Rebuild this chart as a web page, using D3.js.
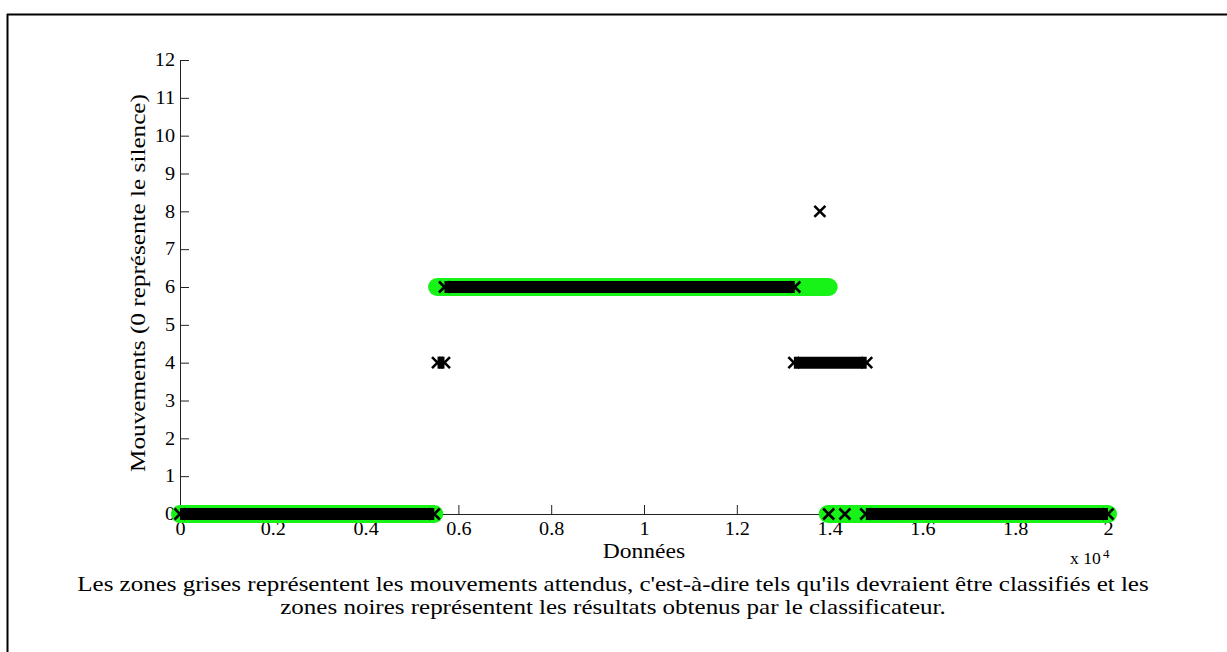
<!DOCTYPE html>
<html>
<head>
<meta charset="utf-8">
<script src="https://cdn.jsdelivr.net/npm/d3@7"></script>
<style>
body { margin: 0; background: #fff; }
text { font-family: "Liberation Serif", "Times New Roman", serif; fill: #000; }
</style>
</head>
<body>
<script>
// expected movements (green): runs of constant value over the sample index
var expectedStart = [0, 5540, 13960];
var expectedEnd = [5480, 13980, 20000];
var expectedValue = [0, 6, 0];

// classifier output (black x markers)
var classStart = [0, 5550, 5700, 13790, 13230, 13980, 14330, 14780];
var classEnd = [5480, 5700, 13250, 13790, 14800, 13980, 14330, 20000];
var classValue = [0, 4, 6, 8, 4, 0, 0, 0];

var xTicks = [0, 2000, 4000, 6000, 8000, 10000, 12000, 14000, 16000, 18000, 20000];
var yTicks = [0, 1, 2, 3, 4, 5, 6, 7, 8, 9, 10, 11, 12];

var captionLines = [
  "Les zones grises représentent les mouvements attendus, c'est-à-dire tels qu'ils devraient être classifiés et les",
  "zones noires représentent les résultats obtenus par le classificateur."
];

var w = 1227, h = 652;
var svg = d3.select("body").append("svg").attr("width", w).attr("height", h);
svg.append("rect").attr("width", w).attr("height", h).attr("fill", "#fff");

// the source glyphs are wider than Liberation Serif, widen text a bit
function stretch(sel, f) {
  sel.each(function(){
    var n = this.getComputedTextLength();
    d3.select(this).attr("textLength", n * f).attr("lengthAdjust", "spacingAndGlyphs");
  });
}

// frame (only top and left show)
svg.append("line").attr("x1", 7).attr("x2", w).attr("y1", 14.5).attr("y2", 14.5)
  .attr("stroke", "#000").attr("stroke-width", 2);
svg.append("line").attr("x1", 7.5).attr("x2", 7.5).attr("y1", 14).attr("y2", h)
  .attr("stroke", "#000").attr("stroke-width", 2);

var x = d3.scaleLinear().domain([0, 20000]).range([180, 1108]);
var y = d3.scaleLinear().domain([0, 12]).range([514, 60]);

var xAxis = d3.axisBottom(x).tickValues(xTicks).tickSize(-9).tickSizeOuter(0).tickPadding(8)
  .tickFormat(function(d){ return d3.format("~g")(d / 10000); });
var yAxis = d3.axisLeft(y).tickValues(yTicks).tickSize(-9).tickSizeOuter(0).tickPadding(5);

var gx = svg.append("g").attr("transform", "translate(0," + y(0) + ")").call(xAxis);
var gy = svg.append("g").attr("transform", "translate(" + x(0) + ",0)").call(yAxis);
[gx, gy].forEach(function(g){
  g.selectAll("text").style("font-size", "18px").attr("fill", "#000");
  g.selectAll("line,path").attr("stroke", "#222");
  stretch(g.selectAll("text"), 1.12);
});

var xl = svg.append("text").attr("x", 644).attr("y", 558).attr("text-anchor", "middle")
  .style("font-size", "21px").text("Données");
stretch(xl, 1.12);
var yl = svg.append("text").attr("transform", "translate(145," + ((y(0) + y(12)) / 2 - 4) + ") rotate(-90)")
  .attr("text-anchor", "middle").style("font-size", "21px")
  .text("Mouvements (0 représente le silence)");
stretch(yl, 1.2);

var m1 = svg.append("text").attr("x", 1070).attr("y", 564).style("font-size", "16px").text("x 10");
stretch(m1, 1.1);
svg.append("text").attr("x", 1103).attr("y", 558).style("font-size", "13px").text("4");

// expected runs
var green = "#17f317";
var exp = d3.range(expectedValue.length);
svg.append("g").selectAll("line").data(exp).enter().append("line")
  .attr("x1", function(i){ return x(expectedStart[i]); })
  .attr("x2", function(i){ return x(expectedEnd[i]); })
  .attr("y1", function(i){ return y(expectedValue[i]); })
  .attr("y2", function(i){ return y(expectedValue[i]); })
  .attr("stroke", green).attr("stroke-width", 18).attr("stroke-linecap", "round");

// classifier runs
var cls = d3.range(classValue.length);
svg.append("g").selectAll("line").data(cls).enter().append("line")
  .attr("x1", function(i){ return x(classStart[i]); })
  .attr("x2", function(i){ return x(classEnd[i]); })
  .attr("y1", function(i){ return y(classValue[i]); })
  .attr("y2", function(i){ return y(classValue[i]); })
  .attr("stroke", "#000").attr("stroke-width", 12).attr("stroke-linecap", "butt");

var ends = [];
cls.forEach(function(i){
  ends.push({ x: classStart[i], v: classValue[i] });
  if (classEnd[i] !== classStart[i]) ends.push({ x: classEnd[i], v: classValue[i] });
});
var s = 5.5;
svg.append("g").selectAll("path").data(ends).enter().append("path")
  .attr("transform", function(d){ return "translate(" + x(d.x) + "," + y(d.v) + ")"; })
  .attr("d", "M" + (-s) + "," + (-s) + "L" + s + "," + s + "M" + (-s) + "," + s + "L" + s + "," + (-s))
  .attr("stroke", "#000").attr("stroke-width", 2.6).attr("fill", "none");

// caption
var cap = svg.append("g").selectAll("text").data(captionLines).enter().append("text")
  .attr("x", 613).attr("y", function(d, i){ return 591 + i * 23; })
  .attr("text-anchor", "middle").style("font-size", "21px")
  .text(function(d){ return d; });
stretch(cap, 1.19);
</script>
</body>
</html>
